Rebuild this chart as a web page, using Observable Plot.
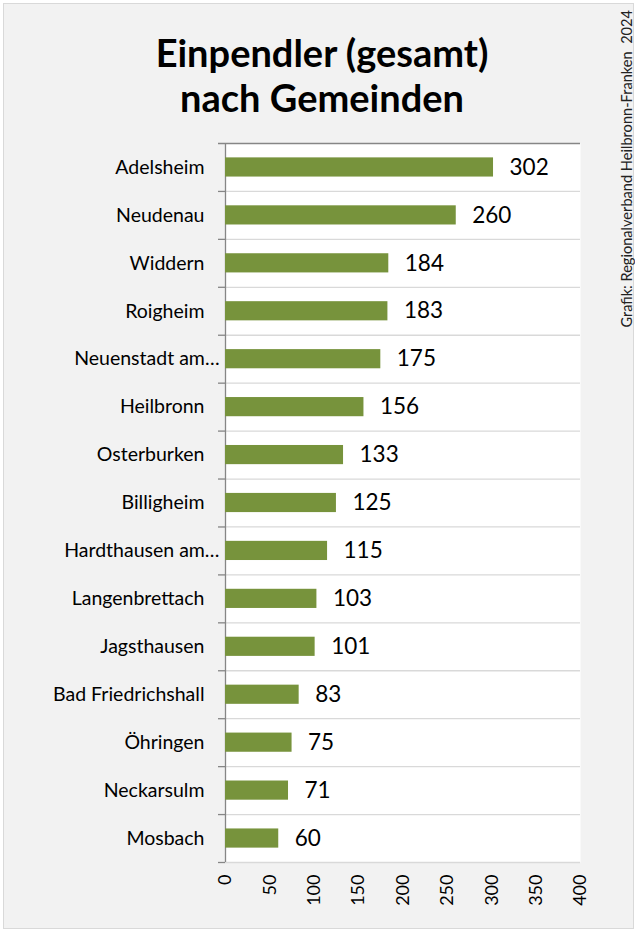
<!DOCTYPE html>
<html><head><meta charset="utf-8">
<script src="https://cdn.jsdelivr.net/npm/d3@7"></script>
<script src="https://cdn.jsdelivr.net/npm/@observablehq/plot@0.6"></script>
<style>
body{margin:0;background:#fff;font-family:Lato,sans-serif}
#wrap{position:relative;width:640px;height:934px;overflow:hidden}
#panel{position:absolute;left:3px;top:3px;width:631px;height:926px;border:1.5px solid #d9d9d9;background:#f2f2f2;box-sizing:border-box}
#title{position:absolute;left:0;width:644px;top:30px;text-align:center;font-weight:700;font-size:38px;line-height:45px;color:#000}
#credit{position:absolute;left:617px;top:10px;writing-mode:vertical-rl;transform:rotate(180deg);font-size:14.6px;color:#222;white-space:pre;line-height:20px}
#chart{position:absolute;left:0;top:0}
</style></head>
<body>
<div id="wrap">
  <div id="panel"></div>
  <div id="chart"></div>
  <div id="title">Einpendler (gesamt)<br>nach Gemeinden</div>
  <div id="credit">Grafik: Regionalverband Heilbronn-Franken  2024</div>
</div>
<script>
const names = ["Adelsheim","Neudenau","Widdern","Roigheim","Neuenstadt am…","Heilbronn","Osterburken","Billigheim","Hardthausen am…","Langenbrettach","Jagsthausen","Bad Friedrichshall","Öhringen","Neckarsulm","Mosbach"];
const values = [302,260,184,183,175,156,133,125,115,103,101,83,75,71,60];
const xTicks = [0,50,100,150,200,250,300,350,400];

const data = names.map((name, i) => ({name, value: values[i]}));
const W = 640, H = 934, mt = 143, mb = 72, ml = 225, mr = 60;
const step = (H - mt - mb) / names.length;
const truncated = names.filter(n => n.endsWith("…"));
const full = names.filter(n => !n.endsWith("…"));

const plot = Plot.plot({
  width: W, height: H,
  marginTop: mt, marginBottom: mb, marginLeft: ml, marginRight: mr,
  style: {background: "transparent", fontFamily: "Lato, sans-serif", color: "#000", overflow: "visible"},
  x: {domain: [0, 400]},
  y: {domain: names, paddingInner: 0.6, paddingOuter: 0.3, round: false},
  marks: [
    Plot.frame({fill: "white", stroke: "none"}),
    Plot.ruleY(names, {y: d => d, dy: step / 2, x1: 0, x2: 400, stroke: "#d9d9d9", strokeWidth: 1.3}),
    Plot.ruleY(names, {y: d => d, dy: step / 2, x1: 0, x2: 0, insetLeft: -7, stroke: "#868686", strokeWidth: 1.3}),
    Plot.ruleY([names[0]], {y: d => d, dy: -step / 2, x1: 0, x2: 400, insetLeft: -7, stroke: "#868686", strokeWidth: 1.3}),
    Plot.ruleX([0], {stroke: "#868686", strokeWidth: 1.3}),
    Plot.barX(data, {x: "value", y: "name", fill: "#77933c"}),
    Plot.text(data, {x: "value", y: "name", text: d => String(d.value), textAnchor: "start", dx: 16, fontSize: 22.5, fill: "#000"}),
    Plot.axisY(full, {tickSize: 0, tickPadding: 21, fontSize: 19.5, label: null}),
    Plot.axisY(truncated, {tickSize: 0, tickPadding: 6, fontSize: 19.5, label: null}),
    Plot.axisX(xTicks, {tickSize: 0, tickPadding: 12, tickRotate: -90, fontSize: 18, label: null})
  ]
});
document.getElementById("chart").appendChild(plot);
</script>
</body></html>
